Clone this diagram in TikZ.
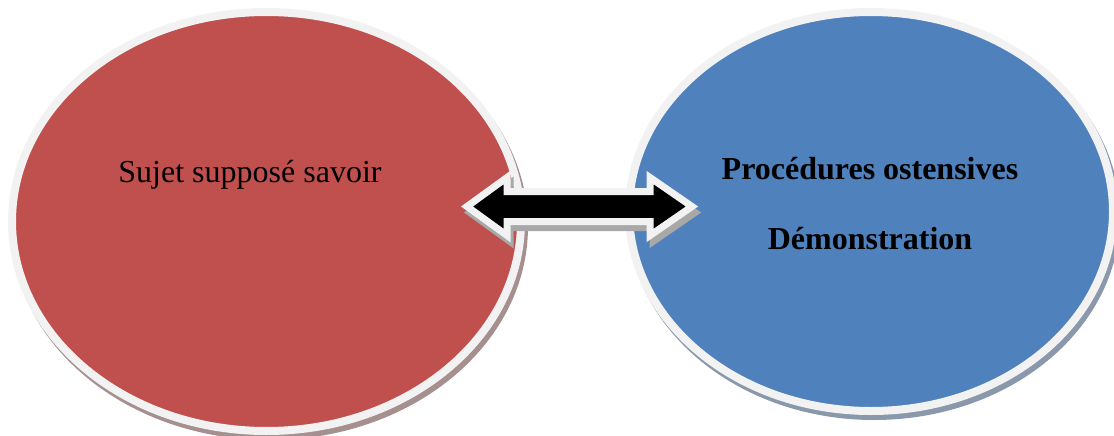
\documentclass[tikz,border=0pt]{standalone}
\usepackage{fontspec}
\setmainfont{Liberation Serif}
\usetikzlibrary{shapes.geometric}
\definecolor{redfill}{HTML}{C0504D}
\definecolor{bluefill}{HTML}{4F81BD}
\definecolor{rim}{HTML}{F2F2F2}
\definecolor{redshadow}{HTML}{A58F8F}
\definecolor{blueshadow}{HTML}{8A98AC}
\definecolor{arrshadow}{HTML}{A8A8A8}
\begin{document}
\begin{tikzpicture}[x=1pt,y=-1pt,
  blob/.style={ellipse, inner sep=0pt, line width=8pt, draw=rim},
  shadowblob/.style={ellipse, inner sep=0pt, line width=8pt},
  lbl/.style={anchor=base, inner sep=0pt, text=black}]
\useasboundingbox (0,0) rectangle (1114,436);
% shadows
\node[shadowblob, fill=redshadow, draw=redshadow, minimum width=509pt, minimum height=419pt] (redsh) at (269.5,226.5) {};
\node[shadowblob, fill=blueshadow, draw=blueshadow, minimum width=484pt, minimum height=399pt] (bluesh) at (874,216.5) {};
% ellipses
\node[blob, fill=redfill, minimum width=509pt, minimum height=419pt] (red) at (266.5,221.5) {};
\node[blob, fill=bluefill, minimum width=484pt, minimum height=399pt] (blue) at (871,211.5) {};
% texts
\node[lbl, font=\fontsize{32}{38}\selectfont] (t1) at (250,182) {Sujet supposé savoir};
\node[lbl, font=\fontsize{32}{38}\selectfont\bfseries] (t2) at (870,179) {Procédures ostensives};
\node[lbl, font=\fontsize{32}{38}\selectfont\bfseries] (t3) at (870,249) {Démonstration};
% double arrow shadow
\begin{scope}[shift={(3,6)}]
\filldraw[fill=arrshadow, draw=arrshadow, line width=7pt, line join=miter]
  (467,206.5) -- (507,177.5) -- (507,191.5) -- (650,191.5) -- (650,177.5) -- (692,206.5)
  -- (650,235.5) -- (650,221.5) -- (507,221.5) -- (507,235.5) -- cycle;
\end{scope}
% double arrow
\filldraw[fill=black, draw=rim, line width=7pt, line join=miter]
  (467,206.5) -- (507,177.5) -- (507,191.5) -- (650,191.5) -- (650,177.5) -- (692,206.5)
  -- (650,235.5) -- (650,221.5) -- (507,221.5) -- (507,235.5) -- cycle;
\end{tikzpicture}
\end{document}
